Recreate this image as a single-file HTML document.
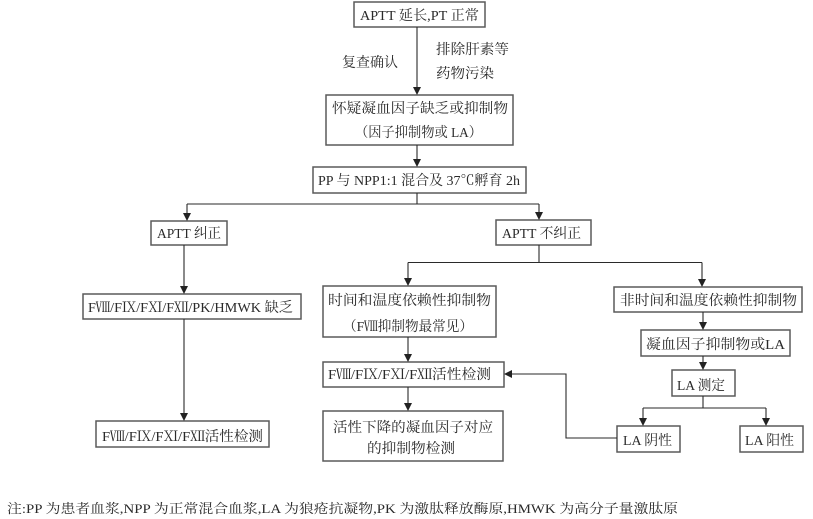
<!DOCTYPE html>
<html>
<head>
<meta charset="utf-8">
<style>
html,body{margin:0;padding:0;background:#fff;}
svg{display:block;}
text{font-family:"Liberation Serif","Noto Serif CJK SC","Noto Sans CJK SC",serif;font-size:14px;fill:#2a2a2a;}
.fn{font-size:13px;}
rect{fill:#fff;stroke:#5a5a5a;stroke-width:1.5;}
.l{stroke:#2a2a2a;stroke-width:1.1;fill:none;}
.a{fill:#222;}
</style>
</head>
<body>
<svg width="813" height="519" viewBox="0 0 813 519" xmlns="http://www.w3.org/2000/svg">
<!-- boxes -->
<rect x="354" y="2" width="131" height="25"/>
<rect x="326" y="95" width="187" height="50"/>
<rect x="313" y="167" width="213" height="26"/>
<rect x="151" y="221" width="76" height="24"/>
<rect x="496" y="220" width="95" height="25"/>
<rect x="83" y="294" width="218" height="25"/>
<rect x="96" y="421" width="173" height="26"/>
<rect x="323" y="286" width="173" height="51"/>
<rect x="323" y="362" width="181" height="25"/>
<rect x="323" y="411" width="180" height="50"/>
<rect x="614" y="287" width="188" height="25"/>
<rect x="641" y="330" width="149" height="26"/>
<rect x="672" y="370" width="63" height="26"/>
<rect x="617" y="426" width="63" height="26"/>
<rect x="740" y="426" width="63" height="26"/>

<!-- lines -->
<path class="l" d="M417 27 V89"/>
<polygon class="a" points="413,87 421,87 417,95"/>
<path class="l" d="M417 145 V161"/>
<polygon class="a" points="413,159 421,159 417,167"/>
<path class="l" d="M417 193 V204 M187 204 H539 M187 204 V215 M539 204 V214"/>
<polygon class="a" points="183,213 191,213 187,221"/>
<polygon class="a" points="535,212 543,212 539,220"/>
<path class="l" d="M184 245 V288"/>
<polygon class="a" points="180,286 188,286 184,294"/>
<path class="l" d="M184 319 V415"/>
<polygon class="a" points="180,413 188,413 184,421"/>
<path class="l" d="M539 245 V262.5 M408 262.5 H702 M408 262.5 V280 M702 262.5 V281"/>
<polygon class="a" points="404,278 412,278 408,286"/>
<polygon class="a" points="698,279 706,279 702,287"/>
<path class="l" d="M408 337 V356"/>
<polygon class="a" points="404,354 412,354 408,362"/>
<path class="l" d="M408 387 V405"/>
<polygon class="a" points="404,403 412,403 408,411"/>
<path class="l" d="M703 312 V324"/>
<polygon class="a" points="699,322 707,322 703,330"/>
<path class="l" d="M703 356 V364"/>
<polygon class="a" points="699,362 707,362 703,370"/>
<path class="l" d="M703 396 V408 M643 408 H766 M643 408 V420 M766 408 V420"/>
<polygon class="a" points="639,418 647,418 643,426"/>
<polygon class="a" points="762,418 770,418 766,426"/>
<path class="l" d="M617 438 H566 V374 H510"/>
<polygon class="a" points="512,370 512,378 504,374"/>

<!-- texts -->
<text x="360" y="20" textLength="119" lengthAdjust="spacingAndGlyphs">APTT 延长,PT 正常</text>
<text x="342" y="67" textLength="56" lengthAdjust="spacingAndGlyphs">复查确认</text>
<text x="436" y="54" textLength="73" lengthAdjust="spacingAndGlyphs">排除肝素等</text>
<text x="436" y="78" textLength="58" lengthAdjust="spacingAndGlyphs">药物污染</text>
<text x="332" y="113" textLength="176" lengthAdjust="spacingAndGlyphs">怀疑凝血因子缺乏或抑制物</text>
<text x="355" y="137" textLength="127" lengthAdjust="spacingAndGlyphs">（因子抑制物或 LA）</text>
<text x="318" y="185" textLength="202" lengthAdjust="spacingAndGlyphs">PP 与 NPP1:1 混合及 37℃孵育 2h</text>
<text x="157" y="238" textLength="64" lengthAdjust="spacingAndGlyphs">APTT 纠正</text>
<text x="502" y="238" textLength="79" lengthAdjust="spacingAndGlyphs">APTT 不纠正</text>
<text x="88" y="312" textLength="205" lengthAdjust="spacingAndGlyphs">FⅧ/FⅨ/FⅪ/FⅫ/PK/HMWK 缺乏</text>
<text x="102" y="441" textLength="161" lengthAdjust="spacingAndGlyphs">FⅧ/FⅨ/FⅪ/FⅫ活性检测</text>
<text x="328" y="305" textLength="163" lengthAdjust="spacingAndGlyphs">时间和温度依赖性抑制物</text>
<text x="343" y="331" textLength="130" lengthAdjust="spacingAndGlyphs">（FⅧ抑制物最常见）</text>
<text x="328" y="379" textLength="163" lengthAdjust="spacingAndGlyphs">FⅧ/FⅨ/FⅪ/FⅫ活性检测</text>
<text x="333" y="432" textLength="160" lengthAdjust="spacingAndGlyphs">活性下降的凝血因子对应</text>
<text x="367" y="453" textLength="88" lengthAdjust="spacingAndGlyphs">的抑制物检测</text>
<text x="620" y="305" textLength="177" lengthAdjust="spacingAndGlyphs">非时间和温度依赖性抑制物</text>
<text x="646" y="349" textLength="139" lengthAdjust="spacingAndGlyphs">凝血因子抑制物或LA</text>
<text x="677" y="390" textLength="48" lengthAdjust="spacingAndGlyphs">LA 测定</text>
<text x="623" y="445" textLength="49" lengthAdjust="spacingAndGlyphs">LA 阴性</text>
<text x="745" y="445" textLength="49" lengthAdjust="spacingAndGlyphs">LA 阳性</text>

<text class="fn" x="7" y="513" textLength="671" lengthAdjust="spacingAndGlyphs">注:PP 为患者血浆,NPP 为正常混合血浆,LA 为狼疮抗凝物,PK 为激肽释放酶原,HMWK 为高分子量激肽原</text>
</svg>
</body>
</html>
